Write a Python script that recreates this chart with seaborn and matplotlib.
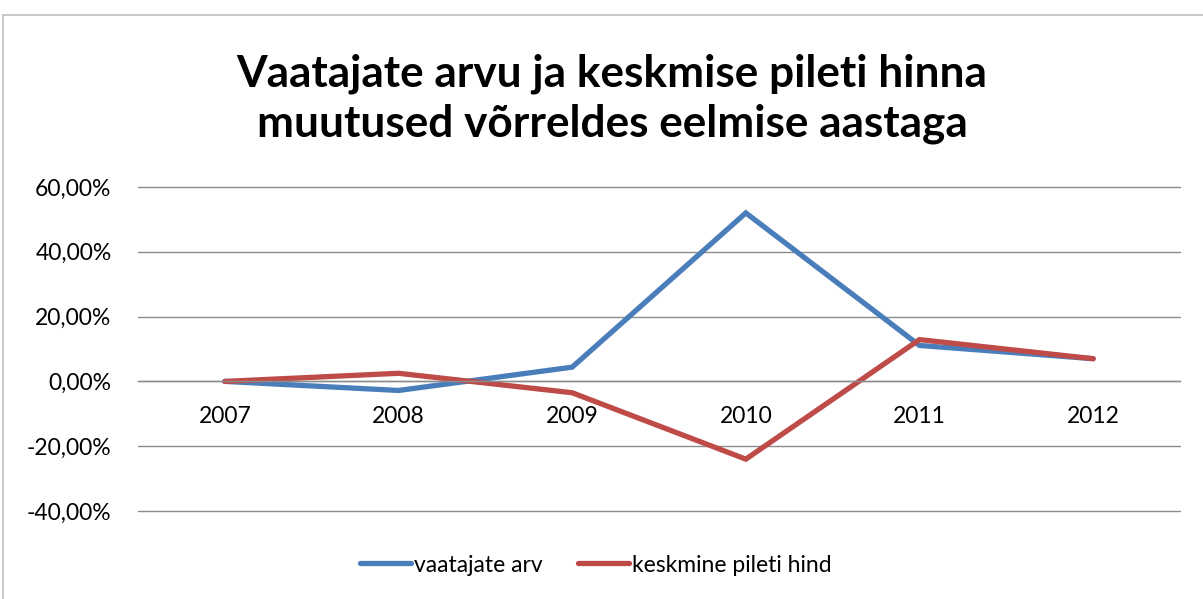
import matplotlib
matplotlib.use("Agg")
import matplotlib.pyplot as plt
import seaborn as sns
import pandas as pd
from matplotlib.patches import Rectangle
from matplotlib.ticker import FuncFormatter, MultipleLocator

years = ["2007", "2008", "2009", "2010", "2011", "2012"]
vaatajate_arv = [0.0, -2.8, 4.4, 52.0, 11.1, 7.0]
keskmine_pileti_hind = [0.0, 2.5, -3.5, -24.0, 12.9, 7.0]
series_names = ["vaatajate arv", "keskmine pileti hind"]
title = "Vaatajate arvu ja keskmise pileti hinna\nmuutused võrreldes eelmise aastaga"

df = pd.DataFrame({
    "year": years * 2,
    "value": vaatajate_arv + keskmine_pileti_hind,
    "series": [series_names[0]] * len(years) + [series_names[1]] * len(years),
})

sns.set_theme(style="white")
plt.rcParams["font.family"] = ["Lato", "DejaVu Sans"]
plt.rcParams["text.color"] = "black"

fig = plt.figure(figsize=(12.03, 5.99), dpi=100)
fig.patches.append(Rectangle((3 / 1203, -0.1), 1.2, (1 - 15 / 599) + 0.1,
                             transform=fig.transFigure, fill=False,
                             edgecolor="#BFBFBF", linewidth=1.2, zorder=0))
ax = fig.add_axes([138 / 1203, 1 - 511 / 599, (1180 - 138) / 1203, (511 - 187) / 599])

palette = {series_names[0]: "#4A7EBB", series_names[1]: "#BE4B48"}
sns.lineplot(data=df, x="year", y="value", hue="series", palette=palette,
             linewidth=3.8, ax=ax, sort=False, legend=False)
for l in ax.lines:
    l.set_solid_capstyle("round")
    l.set_solid_joinstyle("miter")

ax.set_xlim(-0.5, len(years) - 0.5)
ax.set_ylim(-40, 60)
ax.yaxis.set_major_locator(MultipleLocator(20))
ax.yaxis.set_major_formatter(FuncFormatter(lambda v, p: f"{v:.2f}%".replace(".", ",")))
ax.grid(axis="y", color="#8C8C8C", linewidth=1.0)
for gl in ax.get_ygridlines():
    gl.set_clip_on(False)
ax.set_axisbelow(True)
for s in ["top", "right", "left"]:
    ax.spines[s].set_visible(False)
ax.spines["bottom"].set_position(("data", 0))
ax.spines["bottom"].set_color("#8C8C8C")
ax.spines["bottom"].set_linewidth(1.0)
ax.tick_params(axis="x", length=0, pad=18, labelsize=16.5, colors="black")
ax.tick_params(axis="y", length=0, pad=19, labelsize=16.5, colors="black")
ax.set_xlabel("")
ax.set_ylabel("")

fig.text(612 / 1203, 1 - 99 / 599, title, ha="center", va="center", color="black",
         fontsize=31.8, fontweight="bold", linespacing=1.3)

handles = [plt.Line2D([0], [0], color=palette[n], linewidth=3.8, solid_capstyle="round")
           for n in series_names]
fig.legend(handles, series_names, loc="center", bbox_to_anchor=(596 / 1203, 1 - 565 / 599),
           ncol=2, frameon=False, fontsize=16.5, handlelength=2.2, handletextpad=0.15,
           columnspacing=1.55)

fig.savefig("out.png", dpi=100)
